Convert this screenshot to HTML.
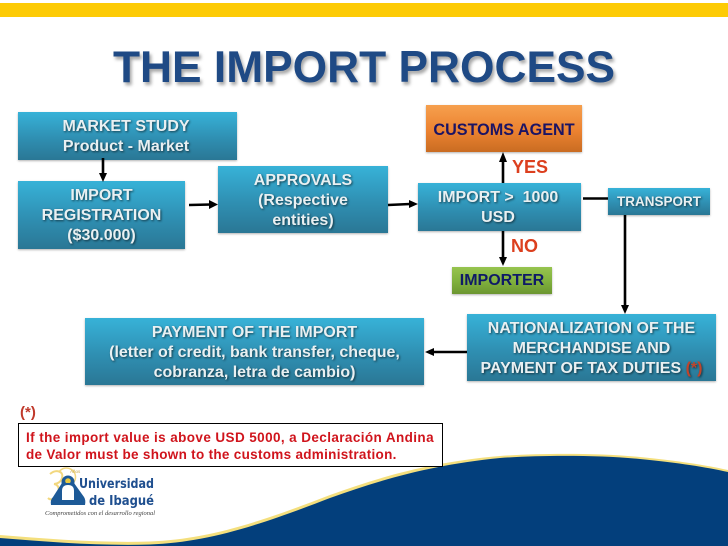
<!DOCTYPE html>
<html><head><meta charset="utf-8"><style>
html,body{margin:0;padding:0;background:#fff}
#p{position:relative;width:728px;height:546px;overflow:hidden;background:#fff;font-family:"Liberation Sans",sans-serif;font-weight:bold}
.b{position:absolute;box-sizing:border-box;display:flex;align-items:center;justify-content:center;text-align:center;color:#e9f0f2;background:linear-gradient(#37b2d8,#2f8fb2 55%,#2a7795);box-shadow:0 1px 2px rgba(0,0,0,.3);font-size:16px;line-height:20px;padding-top:2px;text-shadow:1px 1px 2px rgba(0,0,0,.6);white-space:nowrap}
.t{position:absolute;white-space:nowrap}
svg{position:absolute;left:0;top:0}
</style></head><body><div id="p">
<div style="position:absolute;left:0;top:3px;width:728px;height:14px;background:#fdcb05"></div>
<div class="t" style="left:113px;top:42px;font-size:44.3px;line-height:52px;color:#1f4a85;text-shadow:2px 3px 3px rgba(0,0,0,.35)">THE IMPORT PROCESS</div>
<svg width="728" height="546" viewBox="0 0 728 546">
<path d="M0 535C50 539 100 543 150 541.500C205 539 250 526 330 495C380 477 430 462 500 456C540 453 600 453 640 457C680 461 705 465 728 470V546H0Z" fill="#f4df7d"/>
<path d="M0 538C50 542 100 546 150 544.500C205 542 250 529 330 498C380 480 430 465 500 458C540 455 600 455 640 459C680 463 705 467 728 472V546H0Z" fill="#033f7c"/>
</svg>
<div class="b" style="left:18px;top:112px;width:219px;height:48px;padding-right:3px"><div>MARKET STUDY<br>Product - Market</div></div>
<div class="b" style="left:18px;top:181px;width:167px;height:68px"><div>IMPORT<br>REGISTRATION<br>($30.000)</div></div>
<div class="b" style="left:218px;top:166px;width:170px;height:67px"><div>APPROVALS<br>(Respective<br>entities)</div></div>
<div class="b" style="left:426px;top:105px;width:156px;height:47px;background:linear-gradient(#f6a04e,#ec8230 55%,#c96c22);color:#1b1464;text-shadow:none;font-size:16.2px"><div>CUSTOMS AGENT</div></div>
<div class="b" style="left:418px;top:183px;width:163px;height:48px;padding-right:3px"><div>IMPORT &gt;&nbsp; 1000<br>USD</div></div>
<div class="b" style="left:608px;top:188px;width:102px;height:27px;font-size:13.5px;padding-top:0"><div>TRANSPORT</div></div>
<div class="b" style="left:452px;top:267px;width:100px;height:27px;background:linear-gradient(#97c44f,#7fb03d 55%,#6c9631);color:#0f1a66;text-shadow:none;font-size:16px;padding-top:1px"><div>IMPORTER</div></div>
<div class="b" style="left:467px;top:314px;width:249px;height:67px"><div>NATIONALIZATION OF THE<br>MERCHANDISE AND<br>PAYMENT OF TAX DUTIES&nbsp;<span style="color:#c0452c">(*)</span></div></div>
<div class="b" style="left:85px;top:318px;width:339px;height:67px"><div>PAYMENT OF THE IMPORT<br>(letter of credit, bank transfer, cheque,<br>cobranza, letra de cambio)</div></div>
<div class="t" style="left:512px;top:157px;font-size:18px;line-height:20px;color:#dc3f1e">YES</div>
<div class="t" style="left:511px;top:236px;font-size:18px;line-height:20px;color:#dc3f1e">NO</div>
<svg width="728" height="546" viewBox="0 0 728 546" fill="none" stroke="#000" stroke-width="2.6">
<path d="M103 158V174M189 205L211 204.500M388 205L410 204M503 183V161M503 231V258M583 198.500H608M625 215V306M467 352H433"/>
<g fill="#000" stroke="none">
<path d="M99 173H107L103 182Z"/><path d="M209 200L218 204.500L209 209Z"/><path d="M409 200L418 204L409 208Z"/>
<path d="M499 162H507L503 152Z"/><path d="M499 257H507L503 266Z"/><path d="M621 305H629L625 314Z"/><path d="M434 348V356L425 352Z"/>
</g></svg>
<div class="t" style="left:20px;top:404px;font-size:15px;line-height:18px;color:#c0392b">(*)</div>
<div style="position:absolute;box-sizing:border-box;left:18px;top:423px;width:425px;height:44px;border:1px solid #000;background:#fff"></div>
<div class="t" style="left:26px;top:429px;font-size:13.5px;line-height:17px;color:#d0141c;letter-spacing:.4px">If the import value is above USD 5000, a Declaración Andina<br><span style="letter-spacing:.3px">de Valor must be shown to the customs administration.</span></div>
<svg width="728" height="546" viewBox="0 0 728 546">
<path d="M50 474C56 469 64 471 62 478C61 482 57 484 54 484C60 485 60 492 56 497C53 500 50 500 48 498" fill="none" stroke="#f2d77e" stroke-width="2"/>
<path d="M59 472A9 9 0 0 1 74 482" fill="none" stroke="#f2d77e" stroke-width="1.500"/>
<circle cx="68" cy="482" r="6.500" fill="#1d5a97"/><circle cx="68" cy="481" r="2.800" fill="#e8c840"/>
<path d="M51 505Q50 500 53 497L62 483H74L84 497Q86 500 85 505Z" fill="#1d5a97"/>
<path d="M62 500V491Q62 485 68 485Q74 485 74 491V500Z" fill="#fff"/>
<text x="79" y="488" font-family="'DejaVu Sans',sans-serif" font-weight="bold" font-size="13" fill="#1f4f8f" textLength="75" lengthAdjust="spacingAndGlyphs">Universidad</text>
<text x="89" y="505" font-family="'DejaVu Sans',sans-serif" font-weight="bold" font-size="13" fill="#1f4f8f" textLength="65" lengthAdjust="spacingAndGlyphs">de Ibagué</text>
<text x="45" y="515" font-family="'Liberation Serif',serif" font-style="italic" font-weight="normal" font-size="6.500" fill="#444" textLength="110" lengthAdjust="spacingAndGlyphs">Comprometidos con el desarrollo regional</text>
<text x="70" y="473" font-family="'Liberation Sans',sans-serif" font-weight="normal" font-size="4.500" fill="#c9a94a">Años</text>
</svg>
</div></body></html>
